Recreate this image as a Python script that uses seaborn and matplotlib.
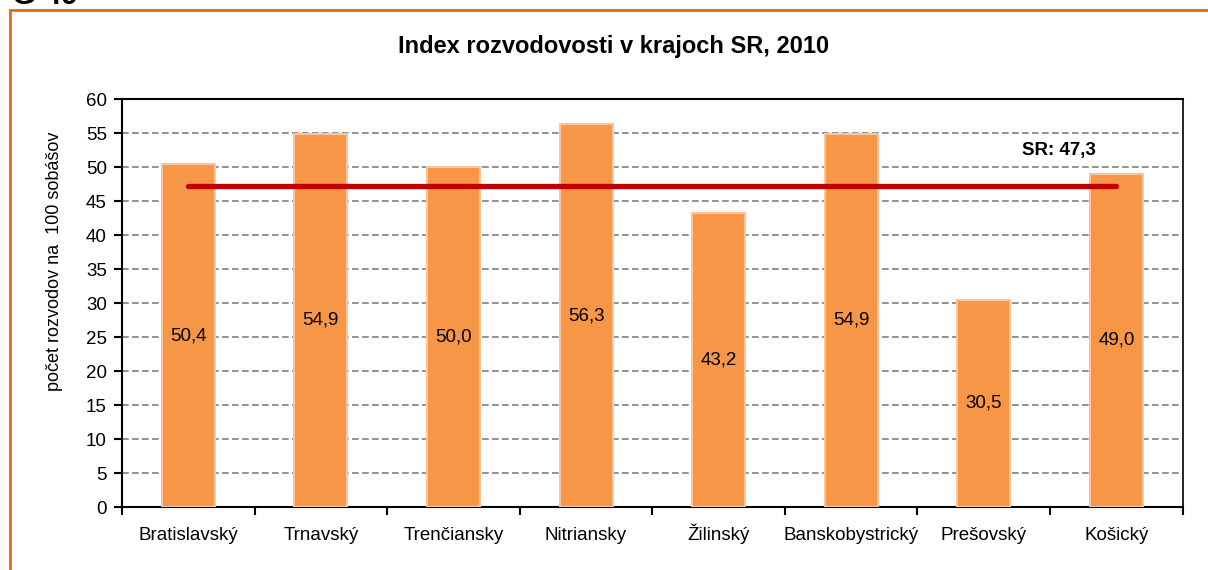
import matplotlib
matplotlib.use('Agg')
import matplotlib.pyplot as plt
import matplotlib.patches as patches
import numpy as np
import pandas as pd
import seaborn as sns

# data
regions = ['Bratislavský', 'Trnavský', 'Trenčiansky', 'Nitriansky',
           'Žilinský', 'Banskobystrický', 'Prešovský', 'Košický']
index_values = [50.4, 54.9, 50.0, 56.3, 43.2, 54.9, 30.5, 49.0]
sr_value = 47.3

data = pd.DataFrame({'kraj': regions, 'index': index_values})

sns.set_style('white')
plt.rcParams['font.family'] = ['DejaVu Sans Condensed', 'Liberation Sans']
plt.rcParams['text.color'] = 'black'
plt.rcParams['axes.labelcolor'] = 'black'
plt.rcParams['xtick.color'] = 'black'
plt.rcParams['ytick.color'] = 'black'

fig = plt.figure(figsize=(12.08, 5.70), dpi=100)
ax = fig.add_axes([0.101, 0.1105, 0.878, 0.7155])

# orange frame around the chart
fig.patches.append(patches.Rectangle((10 / 1208, -0.1), 1.2, 1 - 10 / 570 + 0.1,
                                     transform=fig.transFigure, fill=False,
                                     edgecolor='#E36C0A', linewidth=2))
fig.text(12 / 1208, 1 - 4 / 570, 'G 49', fontsize=22, fontweight='bold',
         va='baseline', ha='left')

sns.barplot(data=data, x='kraj', y='index', color='#F79646', width=0.4,
            edgecolor='#FBC59A', linewidth=1.5, saturation=1, ax=ax, zorder=3)

# value labels in the middle of each bar
for i, v in enumerate(index_values):
    ax.text(i, v / 2, f'{v:.1f}'.replace('.', ','), ha='center', va='center',
            fontsize=13.5, zorder=4)

# national average line
ax.plot([0, len(regions) - 1], [sr_value, sr_value], color='#C00000',
        linewidth=3.8, solid_capstyle='round', zorder=5)
ax.text(6.57, 52.4, f'SR: {sr_value:.1f}'.replace('.', ','), ha='center',
        va='center', fontsize=13.5, fontweight='bold')

ax.set_xlim(-0.5, len(regions) - 0.5)
ax.set_ylim(0, 60)
ax.set_yticks(np.arange(0, 61, 5))
ax.yaxis.grid(True, color='#808080', linestyle=(0, (4, 2)), linewidth=1.2)
ax.set_axisbelow(True)

ax.set_xticks(range(len(regions)))
ax.set_xticklabels(regions)
for lbl in ax.get_xticklabels():
    lbl.set_verticalalignment('baseline')
ax.set_xticks(np.arange(-0.5, len(regions)), minor=True)
ax.tick_params(axis='x', which='major', length=0, labelsize=13.5, pad=24)
ax.tick_params(axis='x', which='minor', length=6, width=1.5, direction='out',
               color='black', bottom=True)
ax.tick_params(axis='y', length=6, width=1.5, direction='out', color='black',
               labelsize=13.5, left=True, pad=5)

for side in ['left', 'right', 'top', 'bottom']:
    ax.spines[side].set_visible(True)
    ax.spines[side].set_color('black')
    ax.spines[side].set_linewidth(1.5)
ax.spines['right'].set_linewidth(1.2)

ax.set_xlabel('')
ax.set_ylabel('počet rozvodov na  100 sobášov', fontsize=13)
ax.yaxis.set_label_coords(-0.0556, 0.603)

fig.text(614 / 1208, 1 - 46 / 570, 'Index rozvodovosti v krajoch SR, 2010',
         ha='center', va='center', fontsize=17, fontweight='bold')

plt.savefig('out.png', dpi=100)
